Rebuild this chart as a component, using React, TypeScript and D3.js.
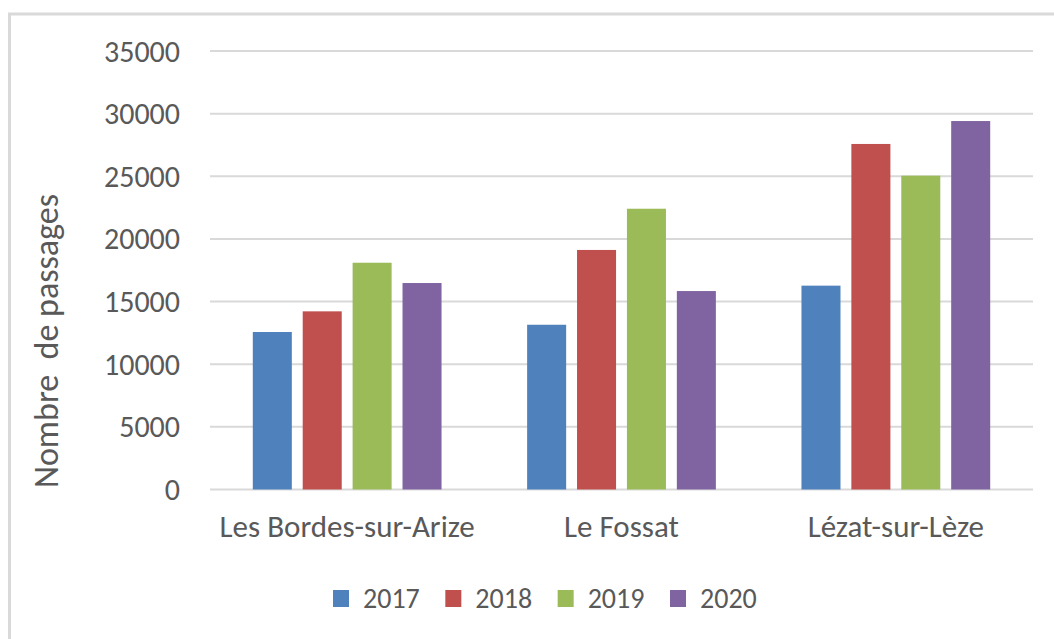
import React from "react";
import * as d3 from "d3";

const categories = ["Les Bordes-sur-Arize", "Le Fossat", "Lézat-sur-Lèze"];
const seriesNames = ["2017", "2018", "2019", "2020"];
const values2017 = [12570, 13150, 16270];
const values2018 = [14220, 19120, 27580];
const values2019 = [18100, 22410, 25050];
const values2020 = [16480, 15840, 29410];
const seriesValues = [values2017, values2018, values2019, values2020];
const colors = ["#4f81bd", "#c0504d", "#9bbb59", "#8064a2"];
const yTicks = [0, 5000, 10000, 15000, 20000, 25000, 30000, 35000];
const yAxisTitle = "Nombre  de passages";

const W = 1054;
const H = 639;
const plotLeft = 210;
const plotRight = 1033;
const plotTop = 51;
const plotBottom = 489.5;
const FONT = "Carlito, Calibri, 'Liberation Sans', Arial, sans-serif";
const TEXT = "#595959";

export default function App() {
  const x0 = d3
    .scaleBand<string>()
    .domain(categories)
    .range([plotLeft, plotRight])
    .paddingInner(0.312)
    .paddingOuter(0.156);
  const x1 = d3
    .scaleBand<string>()
    .domain(seriesNames)
    .range([0, x0.bandwidth()])
    .paddingInner(0.218)
    .paddingOuter(0);
  const y = d3.scaleLinear().domain([0, 35000]).range([plotBottom, plotTop]);

  const legendX = d3.scalePoint<string>().domain(seriesNames).range([333, 670]);

  return (
    <svg
      width={W}
      height={H}
      style={{ position: "absolute", left: 0, top: 0, display: "block", background: "#fff" }}
    >
      <rect x={9.5} y={14} width={W + 10} height={H + 10} fill="#fff" stroke="#d9d9d9" strokeWidth={3} />
      {yTicks.map((t) => (
        <g key={t}>
          <line x1={plotLeft} x2={plotRight} y1={y(t)} y2={y(t)} stroke="#d9d9d9" strokeWidth={2} />
          <text
            x={180}
            y={y(t)}
            dy="0.35em"
            textAnchor="end"
            fontFamily={FONT}
            fontSize={30}
            fill={TEXT}
          >
            {t}
          </text>
        </g>
      ))}
      {categories.map((c, ci) => (
        <g key={c} transform={`translate(${x0(c)},0)`}>
          {seriesNames.map((s, si) => {
            const v = seriesValues[si][ci];
            return (
              <rect
                key={s}
                x={x1(s)}
                y={y(v)}
                width={x1.bandwidth()}
                height={y(0) - y(v)}
                fill={colors[si]}
              />
            );
          })}
        </g>
      ))}
      {categories.map((c) => (
        <text
          key={c}
          x={(x0(c) as number) + x0.bandwidth() / 2}
          y={537}
          textAnchor="middle"
          fontFamily={FONT}
          fontSize={31}
          fill={TEXT}
        >
          {c}
        </text>
      ))}
      <text
        transform={`translate(58,${341}) rotate(-90)`}
        textAnchor="middle"
        fontFamily={FONT}
        fontSize={34}
        fill={TEXT}
        style={{ whiteSpace: "pre" }}
      >
        {yAxisTitle}
      </text>
      {seriesNames.map((s, si) => (
        <g key={s} transform={`translate(${legendX(s)},0)`}>
          <rect x={0} y={590} width={16} height={17} fill={colors[si]} />
          <text x={30} y={608} fontFamily={FONT} fontSize={28} fill={TEXT}>
            {s}
          </text>
        </g>
      ))}
    </svg>
  );
}
